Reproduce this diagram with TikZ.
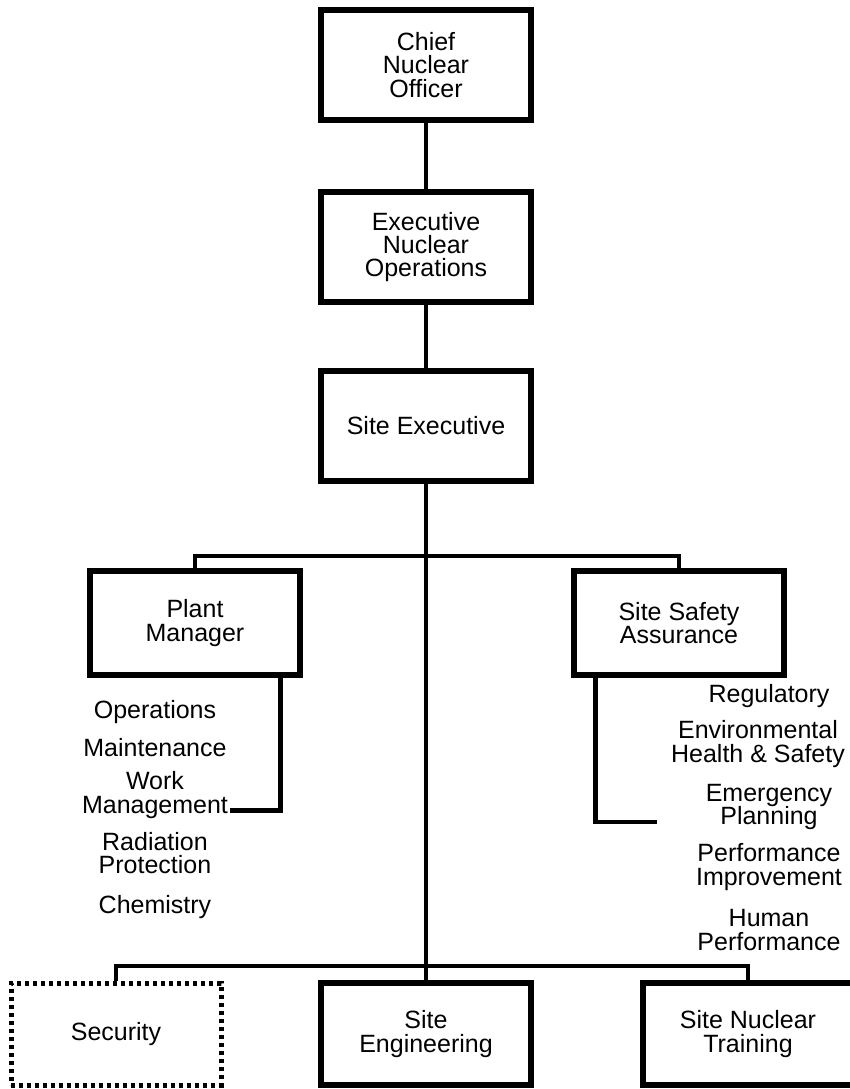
\documentclass[tikz,border=0pt]{standalone}
\usepackage{fontspec}
\setmainfont{Liberation Sans}
\usepackage{tikz}
\usetikzlibrary{positioning}
\tikzstyle{post} = [rectangle, draw=black, line width=2.7pt, minimum width=105pt, minimum height=55pt, align=center, font=\fontsize{12.5}{11.7}\selectfont]
\tikzstyle{vacant} = [post, line width=2.5pt, dash pattern=on 2.2pt off 1.8pt]
\tikzstyle{duty} = [align=center, inner sep=0pt, font=\fontsize{12.5}{11.7}\selectfont]
\tikzstyle{link} = [line width=2.4pt]
\begin{document}
\begin{tikzpicture}[x=0.5pt, y=-0.5pt]
\useasboundingbox (0,0) rectangle (850,1089);
\node (cno) [post] at (426,65) {Chief\\Nuclear\\Officer};
\node (eno) [post] at (426,247) {Executive\\Nuclear\\Operations};
\node (se) [post] at (426,426) {Site Executive};
\node (pm) [post, minimum height=52pt] at (195,623) {Plant\\Manager};
\node (ssa) [post, minimum height=52pt] at (679,623) {Site Safety\\Assurance};
\node (sec) [vacant, minimum height=51pt] at (116,1034) {Security};
\node (seng) [post, minimum height=51pt] at (426,1034) {Site\\Engineering};
\node (snt) [post, minimum height=51pt] at (748,1034) {Site Nuclear\\Training};

\node (ops) [duty] at (155,712) {Operations};
\node (mnt) [duty] at (155,748) {Maintenance};
\node (wm) [duty] at (155,795) {Work\\Management};
\node (rp) [duty] at (155,853) {Radiation\\Protection};
\node (chem) [duty] at (155,907) {Chemistry};

\node (reg) [duty] at (769,696) {Regulatory};
\node (ehs) [duty] at (758,744) {Environmental\\Health \& Safety};
\node (ep) [duty] at (769,807) {Emergency\\Planning};
\node (pi) [duty] at (769,867) {Performance\\Improvement};
\node (hp) [duty] at (769,930) {Human\\Performance};

\coordinate (upper) at (426,556);
\coordinate (lower) at (426,966);
\coordinate (ssaend) at (657,822);

\draw [link] (cno) -- (eno);
\draw [link] (eno) -- (se);
\draw [link] (se) -- (seng);
\draw [link] (pm.north) |- (upper) -| (ssa.north);
\draw [link] (sec.north) |- (lower) -| (snt.north);
\draw [link] (pm.south east) ++(-22,0) |- ([xshift=1pt, yshift=4pt]wm.south east);
\draw [link] (ssa.south west) ++(24,0) |- (ssaend);
\end{tikzpicture}
\end{document}
